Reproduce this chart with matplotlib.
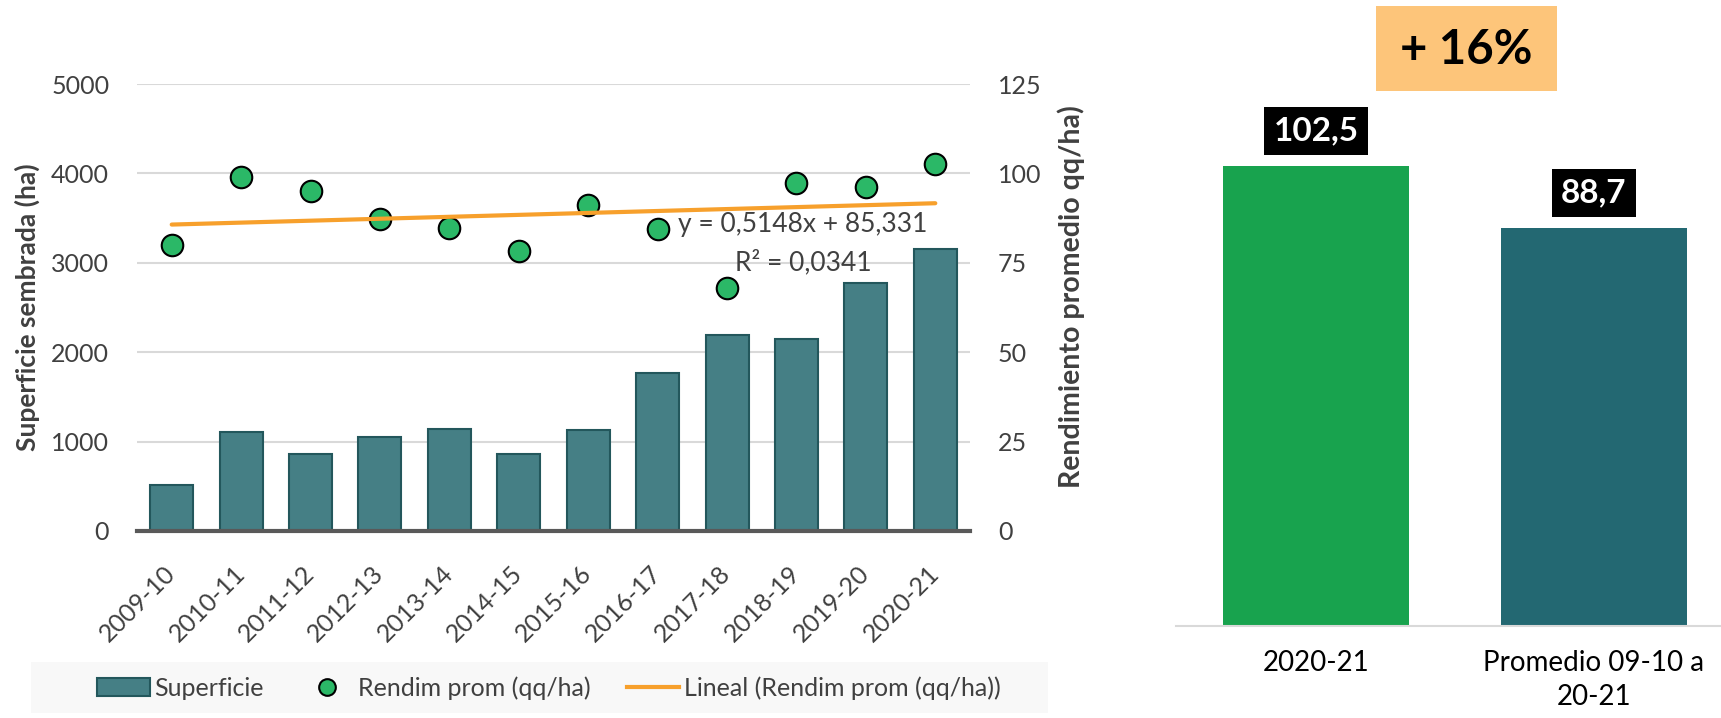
import numpy as np
import matplotlib
matplotlib.use('Agg')
import matplotlib.pyplot as plt
from matplotlib.patches import Rectangle
from matplotlib.lines import Line2D

plt.rcParams['font.family'] = ['Lato', 'DejaVu Sans']

W, H = 1721, 718

campanias = ['2009-10', '2010-11', '2011-12', '2012-13', '2013-14', '2014-15',
             '2015-16', '2016-17', '2017-18', '2018-19', '2019-20', '2020-21']
superficie = [516, 1106, 860, 1057, 1143, 860, 1130, 1769, 2187, 2150, 2776, 3157]
rendimiento = [80.0, 99.0, 95.0, 87.2, 84.8, 78.3, 91.2, 84.5, 68.0, 97.4, 96.2, 102.5]

comparacion_labels = ['2020-21', 'Promedio 09-10 a\n20-21']
comparacion_valores = [102.5, 88.7]
comparacion_textos = ['102,5', '88,7']
variacion = '+ 16%'
ecuacion = 'y = 0,5148x + 85,331'
r2_texto = 'R² = 0,0341'

TEXT_GRAY = '#404040'
TEAL = '#457f85'
TEAL_EDGE = '#23575c'
GREEN_DOT = '#2bb867'
ORANGE = '#f7a02c'


def px_rect(x0, y0, x1, y1):
    # pixel box (origin top-left) -> figure fraction [left, bottom, width, height]
    return [x0 / W, 1 - y1 / H, (x1 - x0) / W, (y1 - y0) / H]


def px_pt(x, y):
    return x / W, 1 - y / H


fig = plt.figure(figsize=(W / 100, H / 100), dpi=100)

# left panel: bars + yield scatter
ax = fig.add_axes(px_rect(137, 84, 970, 531))
x = np.arange(len(campanias))
ax.bar(x, superficie, width=0.62, color=TEAL, edgecolor=TEAL_EDGE, linewidth=1.5, zorder=2)
ax.set_xlim(-0.5, len(campanias) - 0.5)
ax.set_ylim(0, 5000)
ax.set_yticks(range(0, 5001, 1000))
ax.grid(axis='y', color='#d9d9d9', linewidth=1.5)
ax.set_axisbelow(True)
for s in ['top', 'left', 'right']:
    ax.spines[s].set_visible(False)
ax.spines['bottom'].set_color('#595959')
ax.spines['bottom'].set_linewidth(3)
ax.spines['bottom'].set_zorder(4)
ax.tick_params(axis='y', length=0, pad=20, labelsize=18, labelcolor=TEXT_GRAY)
ax.set_xticks(x)
ax.set_xticklabels(campanias, rotation=45, ha='right', va='center', rotation_mode='anchor')
ax.tick_params(axis='x', length=0, pad=28, labelsize=18, labelcolor=TEXT_GRAY)
for lbl in ax.get_xticklabels():
    lbl.set_x(lbl.get_position()[0])

ax2 = ax.twinx()
ax2.set_ylim(0, 125)
ax2.set_yticks(range(0, 126, 25))
for s in ['top', 'left', 'right', 'bottom']:
    ax2.spines[s].set_visible(False)
ax2.tick_params(axis='y', length=0, pad=20, labelsize=18, labelcolor=TEXT_GRAY)
ax2.plot(x, rendimiento, 'o', ms=15.5, mfc=GREEN_DOT, mec='black', mew=1.5, zorder=3)
coef = np.polyfit(x + 1, rendimiento, 1)
ax2.plot(x, np.polyval(coef, x + 1), color=ORANGE, lw=3, zorder=4, solid_capstyle='round')

fig.text(*px_pt(803, 225), ecuacion, ha='center', va='center', fontsize=19, color=TEXT_GRAY)
fig.text(*px_pt(803, 262), r2_texto, ha='center', va='center', fontsize=19, color=TEXT_GRAY)

fig.text(*px_pt(27, 307), 'Superficie sembrada (ha)', rotation=90, ha='center', va='center',
         fontsize=19, fontweight='bold', color=TEXT_GRAY)
fig.text(*px_pt(1071, 297), 'Rendimiento promedio qq/ha)', rotation=90, ha='center', va='center',
         fontsize=20.5, fontweight='bold', color=TEXT_GRAY)

# legend
fig.add_artist(Rectangle(px_pt(31, 713), (1048 - 31) / W, (713 - 662) / H,
                         transform=fig.transFigure, fc='#f8f8f8', ec='none', zorder=0))
handles = [Rectangle((0, 0), 1, 1, fc=TEAL, ec=TEAL_EDGE, lw=1.5),
           Line2D([], [], ls='none', marker='o', ms=12, mfc=GREEN_DOT, mec='black', mew=1.5),
           Line2D([], [], color=ORANGE, lw=3)]
leg = fig.legend(handles, ['Superficie', 'Rendim prom (qq/ha)', 'Lineal (Rendim prom (qq/ha))'],
                 loc='center', bbox_to_anchor=px_pt(549, 688), ncol=3, frameon=False,
                 fontsize=18, handlelength=2.1, handletextpad=0.2, columnspacing=1.45)
for t in leg.get_texts():
    t.set_color(TEXT_GRAY)

# right panel: comparison
axr = fig.add_axes(px_rect(1176, 84, 1721, 626))
axr.bar([0, 1], comparacion_valores, width=0.67, color=['#18a34e', '#236872'])
axr.set_xlim(-0.504, 1.457)
axr.set_ylim(0, 542 / 4.488)
for s in ['top', 'left', 'right']:
    axr.spines[s].set_visible(False)
axr.spines['bottom'].set_color('#d9d9d9')
axr.spines['bottom'].set_linewidth(1.5)
axr.set_yticks([])
axr.set_xticks([0, 1])
axr.set_xticklabels(comparacion_labels, linespacing=1.4)
axr.tick_params(axis='x', length=0, pad=17, labelsize=20, labelcolor='black')

for i, (v, t) in enumerate(zip(comparacion_valores, comparacion_textos)):
    axr.annotate(t, (i, v), xytext=(0, 25), textcoords='offset points', ha='center', va='center',
                 fontsize=24, fontweight='bold', color='white',
                 bbox=dict(boxstyle='square,pad=0.28', fc='black', ec='none'))

fig.add_artist(Rectangle(px_pt(1376, 91), (1557 - 1376) / W, (91 - 6) / H,
                         transform=fig.transFigure, fc='#fdc57a', ec='none'))
fig.text(*px_pt(1466, 50), variacion, ha='center', va='center', fontsize=34,
         fontweight='bold', color='black')

fig.savefig('out.png', dpi=100)
